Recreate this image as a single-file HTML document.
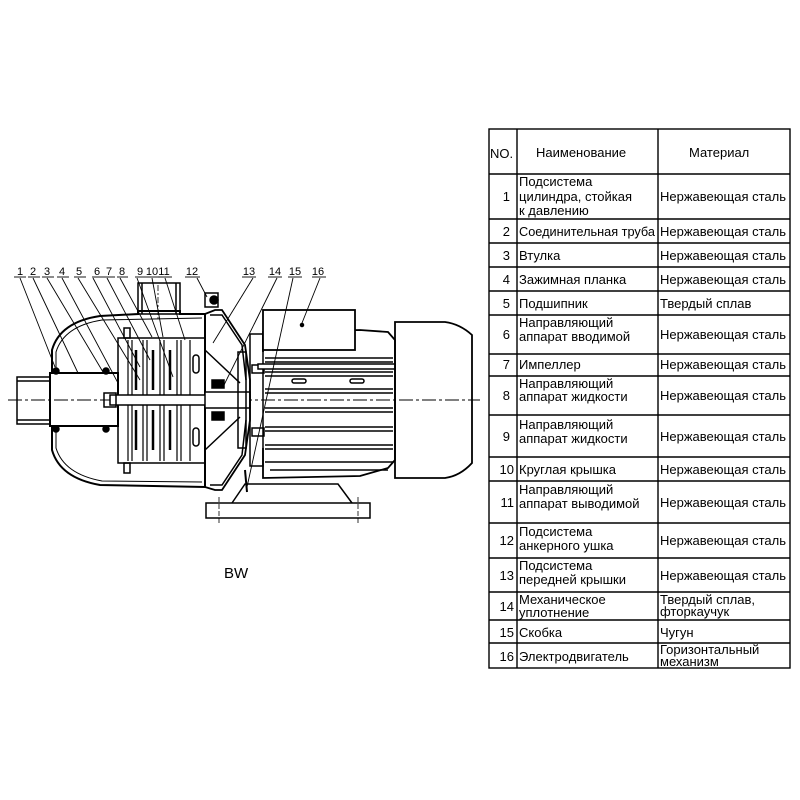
<!DOCTYPE html>
<html><head><meta charset="utf-8">
<style>
html,body{margin:0;padding:0;background:#fff;}
body{width:800px;height:800px;position:relative;overflow:hidden;font-family:"Liberation Sans",Arial,sans-serif;}
svg{position:absolute;left:0;top:0;}
</style></head><body>
<svg width="800" height="800" viewBox="0 0 800 800" xmlns="http://www.w3.org/2000/svg" font-family="Liberation Sans, Arial, sans-serif">
<g stroke="#000" fill="none" stroke-width="1.5">
<line x1="8" y1="400" x2="480" y2="400" stroke-width="0.9" stroke-dasharray="14,3,3,3"/>
<rect x="17" y="377" width="33" height="47"/>
<rect x="50" y="373" width="68" height="53" stroke-width="2"/>
<line x1="17" y1="381" x2="50" y2="381"/><line x1="17" y1="420" x2="50" y2="420"/>
<path d="M52 373 L52 350 Q60 322 100 316 L138 314 L138 311 L180 311 L180 314 L205 314 L205 487 L100 485 Q60 478 52 450 L52 426" stroke-width="2"/>
<path d="M56 372 L56 352 Q64 326 102 320 L202 318" stroke-width="1"/>
<path d="M56 428 L56 448 Q64 474 102 481 L202 482" stroke-width="1"/>
<circle cx="56" cy="371" r="3" fill="#000"/><circle cx="56" cy="429" r="3" fill="#000"/>
<circle cx="106" cy="371" r="3" fill="#000"/><circle cx="106" cy="429" r="3" fill="#000"/>
<rect x="138" y="283" width="42" height="31"/>
<line x1="142" y1="283" x2="142" y2="314"/><line x1="176" y1="283" x2="176" y2="314"/>
<line x1="158" y1="285" x2="158" y2="320" stroke-width="0.8" stroke-dasharray="6,2,2,2"/>
<rect x="118" y="338" width="87" height="125"/>
<rect x="124" y="328" width="6" height="10"/><rect x="124" y="463" width="6" height="10"/>
<g stroke-width="1.2">
<line x1="128" y1="340" x2="128" y2="461"/><line x1="132" y1="340" x2="132" y2="461"/>
<line x1="143" y1="340" x2="143" y2="461"/><line x1="147" y1="340" x2="147" y2="461"/>
<line x1="160" y1="340" x2="160" y2="461"/><line x1="164" y1="340" x2="164" y2="461"/>
<line x1="177" y1="340" x2="177" y2="461"/><line x1="181" y1="340" x2="181" y2="461"/>
<line x1="190" y1="340" x2="190" y2="461"/>
</g>
<g stroke-width="2.5">
<line x1="136" y1="350" x2="136" y2="390"/><line x1="136" y1="410" x2="136" y2="450"/>
<line x1="153" y1="350" x2="153" y2="390"/><line x1="153" y1="410" x2="153" y2="450"/>
<line x1="170" y1="350" x2="170" y2="390"/><line x1="170" y1="410" x2="170" y2="450"/>
</g>
<rect x="193" y="355" width="6" height="18" rx="3"/><rect x="193" y="428" width="6" height="18" rx="3"/>
<rect x="110" y="395" width="140" height="10" fill="#fff"/>
<rect x="104" y="393" width="12" height="14"/>
<rect x="205" y="392" width="45" height="16" fill="#fff"/>
<path d="M205 314 L215 310 L222 310 L245 345 L250 380 L250 420 L245 455 L222 490 L215 490 L205 487" stroke-width="1.8"/>
<path d="M210 315 L222 315 L242 345 L246 380 M246 420 L242 455 L222 485 L210 485"/>
<line x1="205" y1="350" x2="240" y2="383"/><line x1="205" y1="450" x2="240" y2="417"/>
<rect x="238" y="352" width="8" height="96"/>
<rect x="205" y="293" width="13" height="14"/><circle cx="214" cy="300" r="4" fill="#000"/>
<rect x="212" y="380" width="12" height="8" fill="#000"/><rect x="212" y="412" width="12" height="8" fill="#000"/>
<rect x="250" y="334" width="13" height="132"/>
<rect x="252" y="365" width="12" height="8"/><rect x="252" y="428" width="12" height="8"/>
<path d="M263 352 L263 332 L360 330 L388 332 L395 340 L395 460 L388 468 L360 476 L263 478 L263 448" stroke-width="1.8"/>
<rect x="263" y="310" width="92" height="40" fill="#fff" stroke-width="1.8"/>
<circle cx="302" cy="325" r="1.5" fill="#000"/>
<g stroke-width="1.4">
<line x1="265" y1="358" x2="393" y2="358"/><line x1="265" y1="362" x2="393" y2="362"/>
<line x1="265" y1="372" x2="393" y2="372"/><line x1="265" y1="376" x2="393" y2="376"/>
<line x1="265" y1="389" x2="393" y2="389"/><line x1="265" y1="393" x2="393" y2="393"/>
<line x1="265" y1="408" x2="393" y2="408"/><line x1="265" y1="412" x2="393" y2="412"/>
<line x1="265" y1="427" x2="393" y2="427"/><line x1="265" y1="431" x2="393" y2="431"/>
<line x1="265" y1="445" x2="393" y2="445"/><line x1="265" y1="449" x2="393" y2="449"/>
<line x1="265" y1="462" x2="393" y2="462"/><line x1="270" y1="470" x2="388" y2="470"/>
</g>
<rect x="258" y="364" width="137" height="5" fill="#fff"/>
<rect x="292" y="379" width="14" height="4" rx="2"/><rect x="350" y="379" width="14" height="4" rx="2"/>
<path d="M395 322 L445 322 Q460 324 472 335 L472 463 Q460 476 445 478 L395 478 Z" stroke-width="1.8"/>
<path d="M232 503 L245 484 L338 484 L352 503"/>
<rect x="206" y="503" width="164" height="15"/>
<line x1="219" y1="497" x2="219" y2="525" stroke-width="0.8" stroke-dasharray="5,2"/>
<line x1="358" y1="497" x2="358" y2="525" stroke-width="0.8" stroke-dasharray="5,2"/>
<line x1="245" y1="470" x2="247" y2="492" stroke-width="2"/>
<g stroke-width="0.9">
<line x1="14" y1="277" x2="26" y2="277"/><line x1="20" y1="278" x2="55" y2="367"/>
<line x1="28" y1="277" x2="40" y2="277"/><line x1="33" y1="278" x2="78" y2="373"/>
<line x1="42" y1="277" x2="54" y2="277"/><line x1="47" y1="278" x2="103" y2="372"/>
<line x1="57" y1="277" x2="69" y2="277"/><line x1="62" y1="278" x2="118" y2="383"/>
<line x1="74" y1="277" x2="86" y2="277"/><line x1="78" y1="278" x2="140" y2="380"/>
<line x1="92" y1="277" x2="104" y2="277"/><line x1="93" y1="278" x2="140" y2="367"/>
<line x1="104" y1="277" x2="115" y2="277"/><line x1="107" y1="278" x2="150" y2="360"/>
<line x1="117" y1="277" x2="128" y2="277"/><line x1="120" y1="278" x2="152" y2="337"/>
<line x1="135" y1="277" x2="146" y2="277"/><line x1="137" y1="278" x2="173" y2="377"/>
<line x1="146" y1="277" x2="160" y2="277"/><line x1="152" y1="278" x2="163" y2="337"/>
<line x1="158" y1="277" x2="172" y2="277"/><line x1="165" y1="278" x2="185" y2="340"/>
<line x1="185" y1="277" x2="200" y2="277"/><line x1="197" y1="278" x2="207" y2="297"/>
<line x1="242" y1="277" x2="256" y2="277"/><line x1="253" y1="278" x2="213" y2="343"/>
<line x1="268" y1="277" x2="282" y2="277"/><line x1="277" y1="278" x2="223" y2="387"/>
<line x1="288" y1="277" x2="302" y2="277"/><line x1="293" y1="278" x2="247" y2="487"/>
<line x1="312" y1="277" x2="326" y2="277"/><line x1="320" y1="278" x2="302" y2="323"/>
</g>
</g>
<g font-size="11" fill="#000" text-anchor="middle">
<text x="20" y="275">1</text><text x="33" y="275">2</text><text x="47" y="275">3</text><text x="62" y="275">4</text>
<text x="79" y="275">5</text><text x="97" y="275">6</text><text x="109" y="275">7</text><text x="122" y="275">8</text>
<text x="140" y="275">9</text><text x="152" y="275">10</text><text x="164" y="275">11</text><text x="192" y="275">12</text>
<text x="249" y="275">13</text><text x="275" y="275">14</text><text x="295" y="275">15</text><text x="318" y="275">16</text>
</g>
<text x="224" y="578" font-size="15" fill="#000">BW</text>

<g stroke="#000" stroke-width="1.4" fill="none">
<rect x="489" y="129" width="301" height="539"/>
<line x1="517" y1="129" x2="517" y2="668"/><line x1="658" y1="129" x2="658" y2="668"/>
<line x1="489" y1="174" x2="790" y2="174"/><line x1="489" y1="219" x2="790" y2="219"/>
<line x1="489" y1="243" x2="790" y2="243"/><line x1="489" y1="267" x2="790" y2="267"/>
<line x1="489" y1="291" x2="790" y2="291"/><line x1="489" y1="315" x2="790" y2="315"/>
<line x1="489" y1="354" x2="790" y2="354"/><line x1="489" y1="376" x2="790" y2="376"/>
<line x1="489" y1="415" x2="790" y2="415"/><line x1="489" y1="457" x2="790" y2="457"/>
<line x1="489" y1="481" x2="790" y2="481"/><line x1="489" y1="523" x2="790" y2="523"/>
<line x1="489" y1="558" x2="790" y2="558"/><line x1="489" y1="592" x2="790" y2="592"/>
<line x1="489" y1="620" x2="790" y2="620"/><line x1="489" y1="643" x2="790" y2="643"/>
</g>
<g font-size="13" fill="#000">
<text x="490" y="158">NO.</text><text x="536" y="157">Наименование</text><text x="689" y="157">Материал</text>
<g text-anchor="end">
<text x="510" y="201">1</text><text x="510" y="236">2</text><text x="510" y="260">3</text><text x="510" y="284">4</text>
<text x="510" y="308">5</text><text x="510" y="339">6</text><text x="510" y="369">7</text><text x="510" y="400">8</text>
<text x="510" y="441">9</text><text x="514" y="474">10</text><text x="514" y="507">11</text><text x="514" y="545">12</text>
<text x="514" y="580">13</text><text x="514" y="611">14</text><text x="514" y="637">15</text><text x="514" y="661">16</text>
</g>
<g>
<text x="519" y="186">Подсистема</text><text x="519" y="201">цилиндра, стойкая</text><text x="519" y="215">к давлению</text>
<text x="519" y="236" textLength="136" lengthAdjust="spacingAndGlyphs">Соединительная труба</text>
<text x="519" y="260">Втулка</text>
<text x="519" y="284">Зажимная планка</text>
<text x="519" y="308">Подшипник</text>
<text x="519" y="327">Направляющий</text><text x="519" y="341">аппарат вводимой</text>
<text x="519" y="369">Импеллер</text>
<text x="519" y="388">Направляющий</text><text x="519" y="401">аппарат жидкости</text>
<text x="519" y="429">Направляющий</text><text x="519" y="443">аппарат жидкости</text>
<text x="519" y="474">Круглая крышка</text>
<text x="519" y="494">Направляющий</text><text x="519" y="508">аппарат выводимой</text>
<text x="519" y="536">Подсистема</text><text x="519" y="550">анкерного ушка</text>
<text x="519" y="570">Подсистема</text><text x="519" y="584">передней крышки</text>
<text x="519" y="604">Механическое</text><text x="519" y="617">уплотнение</text>
<text x="519" y="637">Скобка</text>
<text x="519" y="661">Электродвигатель</text>
</g>
<g>
<text x="660" y="201">Нержавеющая сталь</text><text x="660" y="236">Нержавеющая сталь</text>
<text x="660" y="260">Нержавеющая сталь</text><text x="660" y="284">Нержавеющая сталь</text>
<text x="660" y="308">Твердый сплав</text><text x="660" y="339">Нержавеющая сталь</text>
<text x="660" y="369">Нержавеющая сталь</text><text x="660" y="400">Нержавеющая сталь</text>
<text x="660" y="441">Нержавеющая сталь</text><text x="660" y="474">Нержавеющая сталь</text>
<text x="660" y="507">Нержавеющая сталь</text><text x="660" y="545">Нержавеющая сталь</text>
<text x="660" y="580">Нержавеющая сталь</text>
<text x="660" y="604">Твердый сплав,</text><text x="660" y="616">фторкаучук</text>
<text x="660" y="637">Чугун</text>
<text x="660" y="654">Горизонтальный</text><text x="660" y="666">механизм</text>
</g>
</g>
</svg>
</body></html>
